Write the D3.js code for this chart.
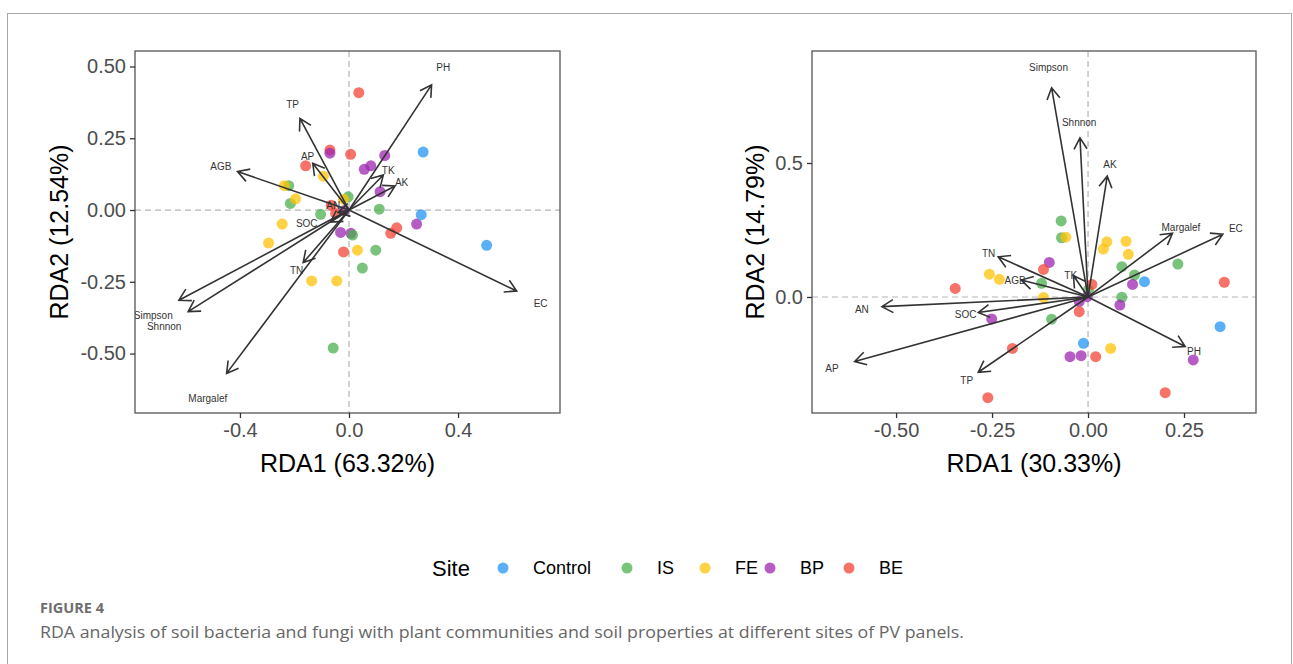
<!DOCTYPE html>
<html>
<head>
<meta charset="utf-8">
<script src="https://cdn.jsdelivr.net/npm/d3@7"></script>
<style>
  body { margin: 0; background: #fff; }
  text { font-family: "Liberation Sans", Arial, sans-serif; }
  .caption { font-family: "Open Sans", "Noto Sans", sans-serif; }
</style>
</head>
<body>
<svg id="chart"></svg>
<script>
const sites = ["Control", "IS", "FE", "BP", "BE"];
const siteColors = ["#2196F3", "#4CAF50", "#FFC107", "#9C27B0", "#F44336"];

// left panel: samples [RDA1, RDA2, site]
const leftPoints = [
  [0.036, 0.409, "BE"], [-0.070, 0.209, "BE"], [0.006, 0.194, "BE"], [-0.159, 0.154, "BE"],
  [-0.065, 0.017, "BE"], [-0.049, -0.012, "BE"], [0.175, -0.062, "BE"], [0.153, -0.081, "BE"],
  [-0.020, -0.146, "BE"],
  [-0.070, 0.198, "BP"], [0.131, 0.190, "BP"], [0.080, 0.154, "BP"], [0.056, 0.142, "BP"],
  [0.114, 0.064, "BP"], [-0.017, -0.002, "BP"], [0.248, -0.049, "BP"], [-0.031, -0.078, "BP"],
  [0.007, -0.081, "BP"],
  [0.272, 0.202, "Control"], [0.265, -0.016, "Control"], [0.505, -0.123, "Control"],
  [-0.003, 0.046, "IS"], [-0.221, 0.085, "IS"], [-0.215, 0.023, "IS"], [-0.104, -0.015, "IS"],
  [0.111, 0.003, "IS"], [0.013, -0.087, "IS"], [0.098, -0.140, "IS"], [0.049, -0.202, "IS"],
  [-0.058, -0.481, "IS"],
  [-0.094, 0.118, "FE"], [-0.237, 0.085, "FE"], [-0.196, 0.039, "FE"], [-0.020, 0.038, "FE"],
  [-0.245, -0.049, "FE"], [-0.295, -0.115, "FE"], [0.031, -0.140, "FE"], [-0.137, -0.247, "FE"],
  [-0.045, -0.247, "FE"]
];
// left panel: environmental arrows [name, tipX, tipY, labelX, labelY]
const leftArrows = [
  ["PH", 0.303, 0.436, 0.346, 0.497],
  ["TP", -0.180, 0.319, -0.207, 0.366],
  ["AP", -0.133, 0.163, -0.152, 0.188],
  ["AGB", -0.409, 0.134, -0.470, 0.151],
  ["TK", 0.126, 0.122, 0.144, 0.139],
  ["AK", 0.169, 0.084, 0.193, 0.095],
  ["EC", 0.615, -0.282, 0.703, -0.325],
  ["Simpson", -0.624, -0.314, -0.718, -0.366],
  ["Shnnon", -0.590, -0.354, -0.678, -0.406],
  ["Margalef", -0.449, -0.569, -0.518, -0.656],
  ["TN", -0.168, -0.183, -0.192, -0.209],
  ["SOC", -0.068, -0.042, -0.155, -0.046],
  ["AN", -0.040, -0.008, -0.058, 0.015]
];

// right panel
const rightPoints = [
  [-0.070, 0.284, "IS"], [-0.069, 0.221, "IS"], [0.088, 0.113, "IS"], [0.121, 0.082, "IS"],
  [0.234, 0.123, "IS"], [-0.121, 0.051, "IS"], [0.001, 0.026, "IS"], [0.088, -0.001, "IS"],
  [-0.095, -0.083, "IS"],
  [-0.058, 0.223, "FE"], [0.049, 0.206, "FE"], [0.040, 0.179, "FE"], [0.099, 0.208, "FE"],
  [0.105, 0.159, "FE"], [-0.257, 0.085, "FE"], [-0.231, 0.066, "FE"], [-0.116, -0.002, "FE"],
  [0.059, -0.192, "FE"],
  [-0.101, 0.129, "BP"], [0.116, 0.047, "BP"], [0.083, -0.030, "BP"], [-0.023, -0.017, "BP"],
  [-0.002, 0.001, "BP"], [-0.251, -0.082, "BP"], [-0.047, -0.223, "BP"], [-0.018, -0.219, "BP"],
  [0.274, -0.235, "BP"],
  [0.010, 0.047, "BE"], [-0.116, 0.103, "BE"], [-0.346, 0.032, "BE"], [0.355, 0.055, "BE"],
  [-0.023, -0.055, "BE"], [-0.197, -0.192, "BE"], [0.020, -0.223, "BE"], [0.201, -0.357, "BE"],
  [-0.261, -0.376, "BE"],
  [0.147, 0.057, "Control"], [0.344, -0.111, "Control"], [-0.012, -0.173, "Control"]
];
const rightArrows = [
  ["Simpson", -0.095, 0.781, -0.103, 0.857],
  ["Shnnon", -0.021, 0.594, -0.023, 0.652],
  ["AK", 0.050, 0.451, 0.057, 0.495],
  ["Margalef", 0.220, 0.238, 0.242, 0.259],
  ["EC", 0.351, 0.234, 0.385, 0.256],
  ["TN", -0.234, 0.150, -0.259, 0.163],
  ["AGB", -0.174, 0.063, -0.190, 0.061],
  ["TK", -0.038, 0.080, -0.045, 0.080],
  ["AN", -0.537, -0.036, -0.589, -0.046],
  ["SOC", -0.286, -0.058, -0.319, -0.065],
  ["AP", -0.608, -0.241, -0.667, -0.266],
  ["TP", -0.286, -0.281, -0.316, -0.310],
  ["PH", 0.253, -0.185, 0.276, -0.205]
];

const leftXTicks = [-0.4, 0.0, 0.4];
const leftYTicks = [-0.50, -0.25, 0.00, 0.25, 0.50];
const rightXTicks = [-0.50, -0.25, 0.00, 0.25];
const rightYTicks = [0.0, 0.5];

const width = 1293, height = 664;
const svg = d3.select("#chart").attr("width", width).attr("height", height);

// outer figure frame
svg.append("rect")
  .attr("x", 7.5).attr("y", 13.5)
  .attr("width", 1284).attr("height", 700)
  .attr("fill", "none").attr("stroke", "#a8a8a8").attr("stroke-width", 1);

const color = d3.scaleOrdinal().domain(sites).range(siteColors);

function panel(cfg) {
  const x = d3.scaleLinear().domain(cfg.xDomain).range([cfg.left, cfg.right]);
  const y = d3.scaleLinear().domain(cfg.yDomain).range([cfg.bottom, cfg.top]);
  const g = svg.append("g");

  const clipId = "clip-" + cfg.id;
  g.append("clipPath").attr("id", clipId)
    .append("rect")
    .attr("x", cfg.left).attr("y", cfg.top)
    .attr("width", cfg.right - cfg.left).attr("height", cfg.bottom - cfg.top);

  const inner = g.append("g").attr("clip-path", "url(#" + clipId + ")");

  // zero lines
  inner.append("line")
    .attr("x1", cfg.left).attr("x2", cfg.right)
    .attr("y1", y(0)).attr("y2", y(0))
    .attr("stroke", "#b5b5b5").attr("stroke-width", 1.2).attr("stroke-dasharray", "6,4");
  inner.append("line")
    .attr("x1", x(0)).attr("x2", x(0))
    .attr("y1", cfg.top).attr("y2", cfg.bottom)
    .attr("stroke", "#b5b5b5").attr("stroke-width", 1.2).attr("stroke-dasharray", "6,4");

  // samples
  inner.selectAll("circle.pt")
    .data(cfg.points)
    .enter().append("circle")
    .attr("class", "pt")
    .attr("cx", d => x(d[0]))
    .attr("cy", d => y(d[1]))
    .attr("r", 5.5)
    .attr("fill", d => color(d[2]))
    .attr("fill-opacity", 0.75);

  // arrows
  const headLen = 13, headAng = Math.PI / 6;
  inner.selectAll("path.arrow")
    .data(cfg.arrows)
    .enter().append("path")
    .attr("class", "arrow")
    .attr("fill", "none")
    .attr("stroke", "#333")
    .attr("stroke-width", 1.6)
    .attr("d", d => {
      const x0 = x(0), y0 = y(0), x1 = x(d[1]), y1 = y(d[2]);
      const a = Math.atan2(y1 - y0, x1 - x0);
      const w1 = [x1 - headLen * Math.cos(a - headAng), y1 - headLen * Math.sin(a - headAng)];
      const w2 = [x1 - headLen * Math.cos(a + headAng), y1 - headLen * Math.sin(a + headAng)];
      return "M" + x0 + "," + y0 + "L" + x1 + "," + y1 +
        "M" + w1[0] + "," + w1[1] + "L" + x1 + "," + y1 + "L" + w2[0] + "," + w2[1];
    });

  inner.selectAll("text.lab")
    .data(cfg.arrows)
    .enter().append("text")
    .attr("class", "lab")
    .attr("x", d => x(d[3]))
    .attr("y", d => y(d[4]))
    .attr("dy", "0.35em")
    .attr("text-anchor", "middle")
    .attr("font-size", 10)
    .attr("fill", "#333")
    .text(d => d[0]);

  // panel border
  g.append("rect")
    .attr("x", cfg.left).attr("y", cfg.top)
    .attr("width", cfg.right - cfg.left).attr("height", cfg.bottom - cfg.top)
    .attr("fill", "none").attr("stroke", "#555").attr("stroke-width", 1.3);

  const xAxis = g.append("g")
    .attr("transform", "translate(0," + cfg.bottom + ")")
    .call(d3.axisBottom(x).tickValues(cfg.xTicks).tickSize(5).tickSizeOuter(0).tickPadding(5)
      .tickFormat(d => d.toFixed(cfg.xDigits)));
  const yAxis = g.append("g")
    .attr("transform", "translate(" + cfg.left + ",0)")
    .call(d3.axisLeft(y).tickValues(cfg.yTicks).tickSize(5).tickSizeOuter(0).tickPadding(4)
      .tickFormat(d => d.toFixed(cfg.yDigits)));

  [xAxis, yAxis].forEach(ax => {
    ax.select(".domain").remove();
    ax.selectAll(".tick line").attr("stroke", "#333").attr("stroke-width", 1.3);
    ax.selectAll(".tick text")
      .attr("fill", "#4d4d4d")
      .attr("font-size", 20)
      .style("font-family", "'Liberation Sans', Arial, sans-serif");
  });

  g.append("text")
    .attr("x", (cfg.left + cfg.right) / 2)
    .attr("y", cfg.bottom + 59)
    .attr("text-anchor", "middle")
    .attr("font-size", 25)
    .attr("fill", "#000")
    .text(cfg.xTitle);

  g.append("text")
    .attr("transform", "translate(" + cfg.yTitleX + "," + (cfg.top + cfg.bottom) / 2 + ") rotate(-90)")
    .attr("text-anchor", "middle")
    .attr("dy", "0.35em")
    .attr("font-size", 25)
    .attr("fill", "#000")
    .text(cfg.yTitle);
}

panel({
  id: "left", left: 135, right: 560, top: 51, bottom: 413,
  xDomain: [-0.785, 0.774], yDomain: [-0.707, 0.554],
  points: leftPoints, arrows: leftArrows,
  xTicks: leftXTicks, yTicks: leftYTicks, xDigits: 1, yDigits: 2,
  xTitle: "RDA1 (63.32%)", yTitle: "RDA2 (12.54%)", yTitleX: 59
});

panel({
  id: "right", left: 812, right: 1256, top: 51, bottom: 413,
  xDomain: [-0.719, 0.4375], yDomain: [-0.433, 0.918],
  points: rightPoints, arrows: rightArrows,
  xTicks: rightXTicks, yTicks: rightYTicks, xDigits: 2, yDigits: 1,
  xTitle: "RDA1 (30.33%)", yTitle: "RDA2 (14.79%)", yTitleX: 755
});

// legend
const legend = svg.append("g").attr("transform", "translate(0,568)");
legend.append("text")
  .attr("x", 432).attr("dy", "0.35em")
  .attr("font-size", 22).attr("fill", "#000")
  .text("Site");
const legendPos = [503, 627, 705, 770, 849];
const items = legend.selectAll("g.item")
  .data(sites)
  .enter().append("g")
  .attr("class", "item")
  .attr("transform", (d, i) => "translate(" + legendPos[i] + ",0)");
items.append("circle").attr("r", 5.5).attr("fill", d => color(d)).attr("fill-opacity", 0.75);
items.append("text")
  .attr("x", 30).attr("dy", "0.35em")
  .attr("font-size", 18).attr("fill", "#000")
  .text(d => d);

// caption
svg.append("text")
  .attr("class", "caption")
  .attr("x", 40).attr("y", 613)
  .attr("font-size", 14).attr("font-weight", "bold").attr("fill", "#6e6e6e")
  .attr("textLength", 64).attr("lengthAdjust", "spacingAndGlyphs")
  .text("FIGURE 4");
svg.append("text")
  .attr("class", "caption")
  .attr("x", 40).attr("y", 638)
  .attr("font-size", 17).attr("fill", "#666")
  .attr("textLength", 924).attr("lengthAdjust", "spacingAndGlyphs")
  .text("RDA analysis of soil bacteria and fungi with plant communities and soil properties at different sites of PV panels.");
</script>
</body>
</html>
